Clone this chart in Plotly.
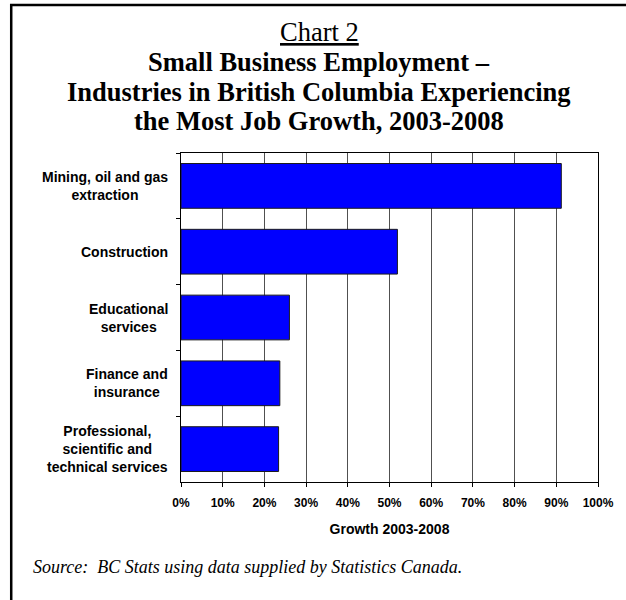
import plotly.graph_objects as go

# ---- data ----
industries = [
    "Mining, oil and gas<br>extraction",
    "Construction",
    "Educational<br>services",
    "Finance and<br>insurance",
    "Professional,<br>scientific and<br>technical services",
]
growth = [0.912, 0.519, 0.26, 0.237, 0.234]
x_ticks = [0, 0.1, 0.2, 0.3, 0.4, 0.5, 0.6, 0.7, 0.8, 0.9, 1.0]
x_tick_labels = ["0%", "10%", "20%", "30%", "40%", "50%", "60%", "70%", "80%", "90%", "100%"]
title_lines = [
    "<u>Chart 2</u>",
    "<b>Small Business Employment –</b>",
    "<b>Industries in British Columbia Experiencing</b>",
    "<b>the Most Job Growth, 2003-2008</b>",
]
x_title = "Growth 2003-2008"
source_text = "Source:\u00a0 BC Stats using data supplied by Statistics Canada."

W, H = 626, 600
L, R, T, B = 181, 25, 153, 118
PW, PH = W - L - R, H - T - B


def px(xp):
    return (xp - L) / PW


def py(yp):
    return (H - B - yp) / PH


fig = go.Figure()
fig.add_trace(go.Bar(
    x=growth, y=industries, orientation="h",
    marker=dict(color="#0000FF", line=dict(color="#1a1a1a", width=1)),
    hoverinfo="skip",
))

serif = "Liberation Serif, Times New Roman, serif"
sans = "Liberation Sans, Arial, sans-serif"

annotations = []
title_y = [32, 62, 92, 121]
for txt, ty in zip(title_lines, title_y):
    annotations.append(dict(
        text=txt, x=px(320), y=py(ty), xref="paper", yref="paper",
        xanchor="center", yanchor="middle", showarrow=False,
        font=dict(family=serif, size=26.5, color="black"),
    ))

for cat in industries:
    annotations.append(dict(
        text="<b>" + cat + "</b>", x=0, y=cat, xref="paper", yref="y",
        xanchor="right", yanchor="middle", align="center", xshift=-11,
        showarrow=False, font=dict(family=sans, size=14, color="black"),
    ))

annotations.append(dict(
    text="<i>" + source_text + "</i>", x=px(30), y=py(567), xref="paper", yref="paper",
    xanchor="left", yanchor="middle", showarrow=False,
    font=dict(family=serif, size=18, color="black"),
))

fig.update_layout(
    width=W, height=H,
    margin=dict(l=L, r=R, t=T, b=B, pad=0),
    paper_bgcolor="white", plot_bgcolor="white",
    showlegend=False,
    bargap=0.32,
    annotations=annotations,
    shapes=[dict(type="rect", xref="paper", yref="paper",
                 x0=px(10), x1=px(650), y0=py(5), y1=py(640),
                 line=dict(color="black", width=2.5), layer="above")],
    xaxis=dict(
        range=[0, 1], tickvals=x_ticks, ticktext=[f"<b>{t}</b>" for t in x_tick_labels],
        showgrid=True, gridcolor="#505050", gridwidth=1,
        showline=True, linecolor="black", linewidth=1, mirror=True,
        ticks="outside", ticklen=4, tickcolor="black", ticklabelstandoff=6,
        tickfont=dict(family=sans, size=12, color="black"),
        title=dict(text="<b>" + x_title + "</b>", font=dict(family=sans, size=14, color="black"),
                   standoff=14),
        zeroline=False, fixedrange=True,
    ),
    yaxis=dict(
        type="category", autorange="reversed",
        showticklabels=False, showgrid=False,
        showline=True, linecolor="black", linewidth=1, mirror=True,
        ticks="outside", ticklen=4, tickcolor="black", tickson="boundaries",
        fixedrange=True,
    ),
)

fig.write_html("out.html")
